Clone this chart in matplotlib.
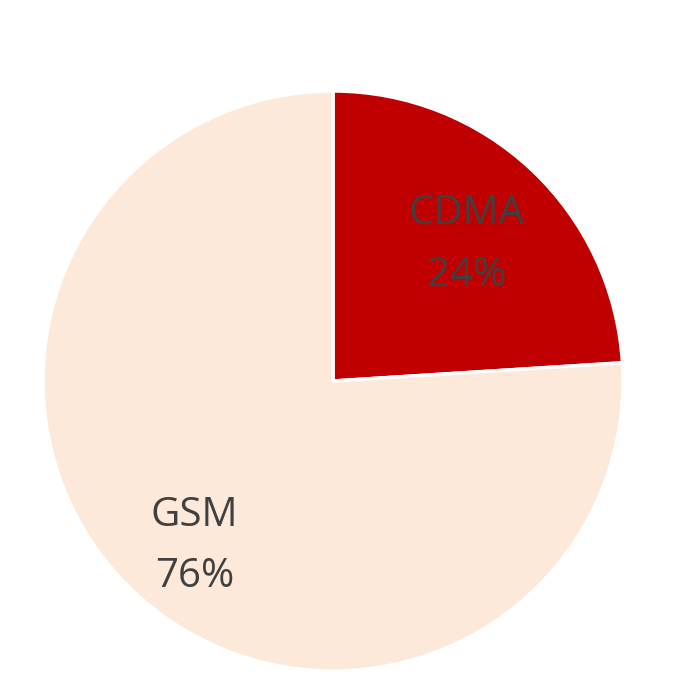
import matplotlib.pyplot as plt

labels = ['CDMA', 'GSM']
shares = [24, 76]
colors = ['#C00000', '#FDE9DA']

plt.rcParams['font.family'] = ['Open Sans', 'DejaVu Sans']

fig = plt.figure(figsize=(7, 6.89), dpi=100)
ax = fig.add_axes([43 / 700, 18 / 689, 580 / 700, 580 / 689])

wedges, texts = ax.pie(shares, colors=colors, startangle=90, counterclock=False,
                       labels=[f'{l}\n{s}%' for l, s in zip(labels, shares)],
                       labeldistance=0.7,
                       wedgeprops=dict(edgecolor='white', linewidth=2.5),
                       textprops=dict(color='#404040', fontsize=29, ha='center',
                                      va='center', linespacing=1.7))
texts[0].set_position((0.46, 0.47))
texts[1].set_position((-0.478, -0.57))
ax.set_xlim(-1, 1)
ax.set_ylim(-1, 1)

fig.savefig('out.png')
